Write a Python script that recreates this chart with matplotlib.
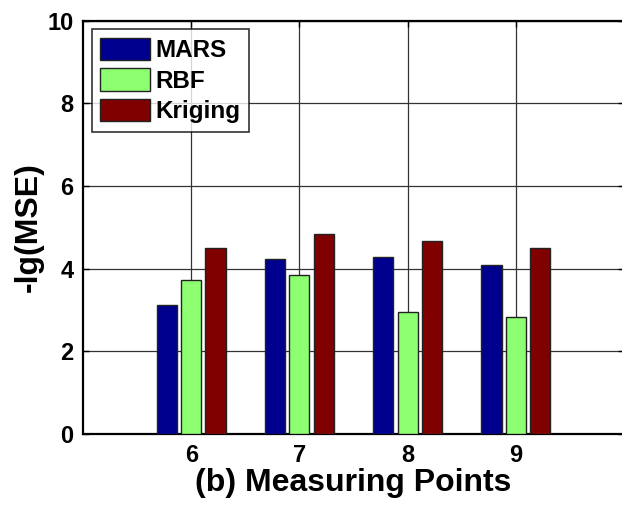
import matplotlib
matplotlib.use("Agg")
import matplotlib.pyplot as plt
import numpy as np

# Measurement points and model scores (-lg of mean squared error)
points = [6, 7, 8, 9]
series_names = ["MARS", "RBF", "Kriging"]
mars = [3.13, 4.24, 4.28, 4.08]
rbf = [3.72, 3.85, 2.95, 2.83]
kriging = [4.50, 4.85, 4.67, 4.49]
colors = ["#00008F", "#8EFF70", "#800000"]

plt.rcParams["font.family"] = ["Liberation Sans", "DejaVu Sans"]
plt.rcParams["font.weight"] = "bold"

W, H = 622, 505
fig = plt.figure(figsize=(W / 100, H / 100), dpi=100)
left, right, top, bottom = 83, 624, 20.7, 434
ax = fig.add_axes([left / W, 1 - bottom / H, (right - left) / W, (bottom - top) / H])

x = np.array(points, dtype=float)
offsets = [-0.225, 0.0, 0.225]
width = 0.186
for vals, name, c, off in zip([mars, rbf, kriging], series_names, colors, offsets):
    ax.bar(x + off, vals, width=width, color=c, edgecolor="#222222",
           linewidth=1.0, label=name, zorder=3)

ax.set_xlim(5, 10)
ax.set_ylim(0, 10)
ax.set_xticks(points)
ax.set_yticks([0, 2, 4, 6, 8, 10])
ax.grid(True, color="#333333", linewidth=0.9, zorder=0)
ax.set_axisbelow(True)

ax.tick_params(direction="in", length=4, width=1, top=True, right=True,
               labelsize=17, pad=7)
for lab in ax.get_xticklabels() + ax.get_yticklabels():
    lab.set_fontweight("bold")
for s in ax.spines.values():
    s.set_linewidth(1.6)

ax.set_xlabel("(b) Measuring Points", fontsize=23, fontweight="bold", labelpad=1)
ax.set_ylabel("-lg(MSE)", fontsize=23, fontweight="bold", labelpad=2)

leg = ax.legend(loc="upper left", fontsize=17.5, frameon=True, fancybox=False,
                edgecolor="black", handlelength=2.05, handleheight=1.05,
                handletextpad=0.22, labelspacing=0.24, borderpad=0.35,
                borderaxespad=0.35)
leg.get_frame().set_linewidth(1.2)
for t in leg.get_texts():
    t.set_fontweight("bold")

fig.savefig("out.png", dpi=100)
